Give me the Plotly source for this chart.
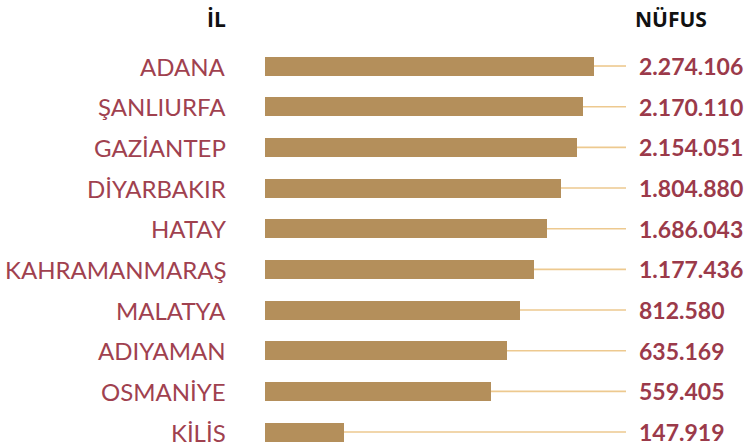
import plotly.graph_objects as go

provinces = ["ADANA", "ŞANLIURFA", "GAZİANTEP", "DİYARBAKIR", "HATAY",
             "KAHRAMANMARAŞ", "MALATYA", "ADIYAMAN", "OSMANİYE", "KİLİS"]
population_labels = ["2.274.106", "2.170.110", "2.154.051", "1.804.880", "1.686.043",
                     "1.177.436", "812.580", "635.169", "559.405", "147.919"]
# displayed bar lengths (stylized, as drawn in the reference)
bar_lengths = [329, 318, 312, 296, 282, 269, 255, 242, 226, 79]
connector_end = 361
header_left = "İL"
header_right = "NÜFUS"

BAR = "#B48F5B"
LINE = "#EDC98F"
RED = "#A0414F"
VAL = "#9B3A4A"

XMAX = 483.0
idx = list(range(len(provinces)))

fig = go.Figure()
for i, L in zip(idx, bar_lengths):
    fig.add_trace(go.Scatter(x=[L, connector_end], y=[i, i], mode="lines",
                             line=dict(color=LINE, width=1.6),
                             hoverinfo="skip", showlegend=False))
fig.add_trace(go.Bar(x=bar_lengths, y=idx, orientation="h", width=0.467,
                     marker=dict(color=BAR, line=dict(width=0)),
                     showlegend=False, hovertext=provinces))

annotations = []
for i, (p, v) in enumerate(zip(provinces, population_labels)):
    annotations.append(dict(x=-38 / XMAX, y=i, xref="paper", yref="y", text=p, showarrow=False,
                            xanchor="right", yanchor="middle", borderpad=0,
                            font=dict(family="Lato", size=24, color=RED)))
    annotations.append(dict(x=373 / XMAX, y=i, xref="paper", yref="y", text=f"<b>{v}</b>",
                            showarrow=False, xanchor="left", yanchor="middle", borderpad=0,
                            font=dict(family="Lato", size=23, color=VAL)))
hy = 1 + (46 - 19) / 400
annotations.append(dict(x=-37 / XMAX, y=hy, xref="paper", yref="paper",
                        text=f"<b>{header_left}</b>", showarrow=False,
                        xanchor="right", yanchor="middle",
                        font=dict(family="Open Sans", size=21, color="#111111")))
annotations.append(dict(x=368 / XMAX, y=hy, xref="paper", yref="paper",
                        text=f"<b>{header_right}</b>", showarrow=False,
                        xanchor="left", yanchor="middle",
                        font=dict(family="Open Sans", size=21, color="#111111")))

fig.update_layout(
    width=748, height=446,
    margin=dict(l=265, r=0, t=46, b=0, pad=0),
    paper_bgcolor="white", plot_bgcolor="white",
    xaxis=dict(range=[0, XMAX], visible=False, fixedrange=True),
    yaxis=dict(range=[9.343, -0.492], visible=False, fixedrange=True),
    annotations=annotations,
    bargap=0,
)
fig.write_html("out.html", config={"displayModeBar": False},
               post_script="document.body.style.margin='0';")
